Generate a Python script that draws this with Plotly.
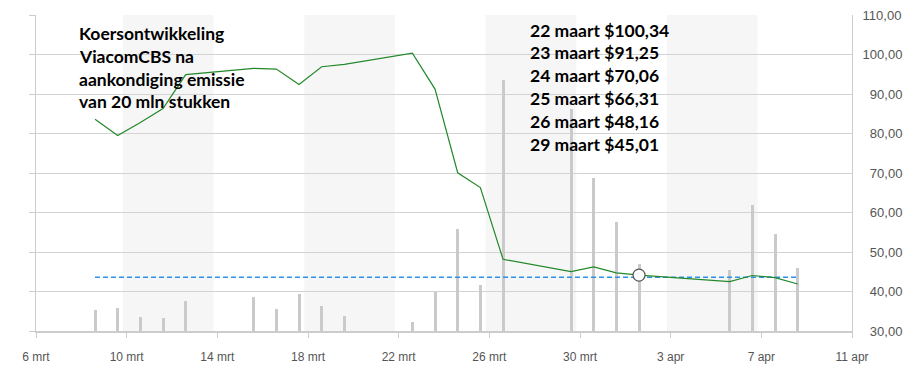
import pandas as pd
import plotly.graph_objects as go

# ---------------- data ----------------
trade_dates = ["2021-03-08", "2021-03-09", "2021-03-10", "2021-03-11", "2021-03-12",
               "2021-03-15", "2021-03-16", "2021-03-17", "2021-03-18", "2021-03-19",
               "2021-03-22", "2021-03-23", "2021-03-24", "2021-03-25", "2021-03-26",
               "2021-03-29", "2021-03-30", "2021-03-31", "2021-04-01",
               "2021-04-05", "2021-04-06", "2021-04-07", "2021-04-08"]
close_price = [83.6, 79.5, 82.8, 86.3, 94.9,
               96.5, 96.3, 92.4, 96.9, 97.5,
               100.34, 91.25, 70.06, 66.31, 48.16,
               45.01, 46.25, 44.7, 44.15,
               42.5, 44.05, 43.5, 41.9]
volume_mln = [12.5, 13.6, 8.4, 7.9, 17.9,
              20.3, 13.1, 22.3, 14.8, 8.8,
              5.6, 23.5, 61.1, 27.3, 150.0,
              132.7, 91.6, 65.1, 40.2,
              36.5, 75.3, 58.0, 37.6]
reference_level = 43.6
highlight_date = "2021-04-01"

x_tick_dates = ["2021-03-06", "2021-03-10", "2021-03-14", "2021-03-18", "2021-03-22",
                "2021-03-26", "2021-03-30", "2021-04-03", "2021-04-07", "2021-04-11"]
x_tick_labels = ["6 mrt", "10 mrt", "14 mrt", "18 mrt", "22 mrt",
                 "26 mrt", "30 mrt", "3 apr", "7 apr", "11 apr"]
y_tick_values = [30, 40, 50, 60, 70, 80, 90, 100, 110]
y_tick_labels = ["\u200730,00", "\u200740,00", "\u200750,00", "\u200760,00", "\u200770,00",
                 "\u200780,00", "\u200790,00", "100,00", "110,00"]

title_lines = ["Koersontwikkeling", "ViacomCBS na", "aankondiging emissie", "van 20 mln stukken"]
price_lines = ["22 maart $100,34", "23 maart $91,25", "24 maart $70,06",
               "25 maart $66,31", "26 maart $48,16", "29 maart $45,01"]

# ---------------- figure ----------------
W, H = 905, 375
ML, MR, MT, MB = 36, 53, 15, 44
PH = H - MT - MB

stamp = pd.to_datetime(trade_dates) + pd.Timedelta(hours=14, minutes=30)
hl_idx = trade_dates.index(highlight_date)

fig = go.Figure()

fig.add_trace(go.Bar(
    x=stamp, y=volume_mln, yaxis="y",
    marker=dict(color="#cacaca", line=dict(width=0)),
    width=1.15e7, hoverinfo="skip", showlegend=False))

fig.add_trace(go.Scatter(
    x=[stamp[0], stamp[-1]], y=[reference_level, reference_level], yaxis="y2",
    mode="lines", line=dict(color="#2b90ec", width=1.5, dash="5px,3px"),
    hoverinfo="skip", showlegend=False))

fig.add_trace(go.Scatter(
    x=stamp, y=close_price, yaxis="y2", mode="lines",
    line=dict(color="#23892a", width=1.2), showlegend=False))

fig.add_trace(go.Scatter(
    x=[stamp[hl_idx]], y=[close_price[hl_idx]], yaxis="y2", mode="markers",
    marker=dict(size=12, color="white", line=dict(color="#555555", width=1.2)),
    showlegend=False))

# alternating bands between tick intervals
tick_ts = pd.to_datetime(x_tick_dates)
shapes = []
for i in range(1, len(tick_ts) - 1, 2):
    shapes.append(dict(type="rect", xref="x", yref="paper",
                       x0=tick_ts[i] - pd.Timedelta(hours=4),
                       x1=tick_ts[i + 1] - pd.Timedelta(hours=4),
                       y0=0, y1=1, fillcolor="#f6f6f6", line=dict(width=0),
                       layer="below"))

def ypaper(px):
    return 1 - (px - MT) / PH

annotations = []
title_y = [33.7, 56.3, 79.0, 101.7]
for t, yy in zip(title_lines, title_y):
    annotations.append(dict(text=t, xref="paper", yref="paper",
                            x=(77 - ML) / (W - ML - MR), y=ypaper(yy),
                            xanchor="left", yanchor="middle", showarrow=False,
                            font=dict(family="Lato", size=17.5, color="#000000", weight="bold")))
price_y = [30.3, 52.9, 75.5, 98.8, 121.7, 144.5]
for t, yy in zip(price_lines, price_y):
    annotations.append(dict(text=t, xref="paper", yref="paper",
                            x=(528 - ML) / (W - ML - MR), y=ypaper(yy),
                            xanchor="left", yanchor="middle", showarrow=False,
                            font=dict(family="Lato", size=17.5, color="#000000", weight="bold")))

fig.update_layout(
    width=W, height=H,
    margin=dict(l=ML, r=MR, t=MT, b=MB, pad=0, autoexpand=False),
    paper_bgcolor="white", plot_bgcolor="white",
    showlegend=False, bargap=0,
    font=dict(family="Liberation Sans, Arial, sans-serif", size=12, color="#555555"),
    xaxis=dict(type="date", range=["2021-03-06", "2021-04-11"],
               tickvals=x_tick_dates, ticktext=x_tick_labels,
               ticks="outside", ticklen=5, tickcolor="#cccccc", tickwidth=1,
               ticklabelstandoff=9, automargin=False,
               showline=True, linecolor="#cccccc", linewidth=1.5,
               showgrid=False, zeroline=False,
               tickfont=dict(family="Liberation Sans", size=12, color="#555555")),
    yaxis=dict(range=[0, 189], visible=False, fixedrange=True, automargin=False),
    yaxis2=dict(overlaying="y", side="right", range=[30, 110],
                tickvals=y_tick_values, ticktext=y_tick_labels,
                showgrid=True, gridcolor="#d3d3d3", gridwidth=1,
                showline=True, linecolor="#cccccc", linewidth=1,
                ticks="", ticklabelstandoff=7,
                zeroline=False, automargin=False,
                tickfont=dict(family="Liberation Sans", size=13, color="#555555")),
    yaxis3=dict(overlaying="y", side="left", range=[30, 110],
                tickvals=y_tick_values, showticklabels=False,
                ticks="outside", ticklen=6, tickcolor="#cccccc",
                showline=True, linecolor="#cccccc", linewidth=1,
                showgrid=False, zeroline=False, automargin=False),
    shapes=shapes, annotations=annotations,
)
fig.add_trace(go.Scatter(x=[stamp[0]], y=[None], yaxis="y3", showlegend=False,
                         hoverinfo="skip"))

fig.write_html("out.html")
